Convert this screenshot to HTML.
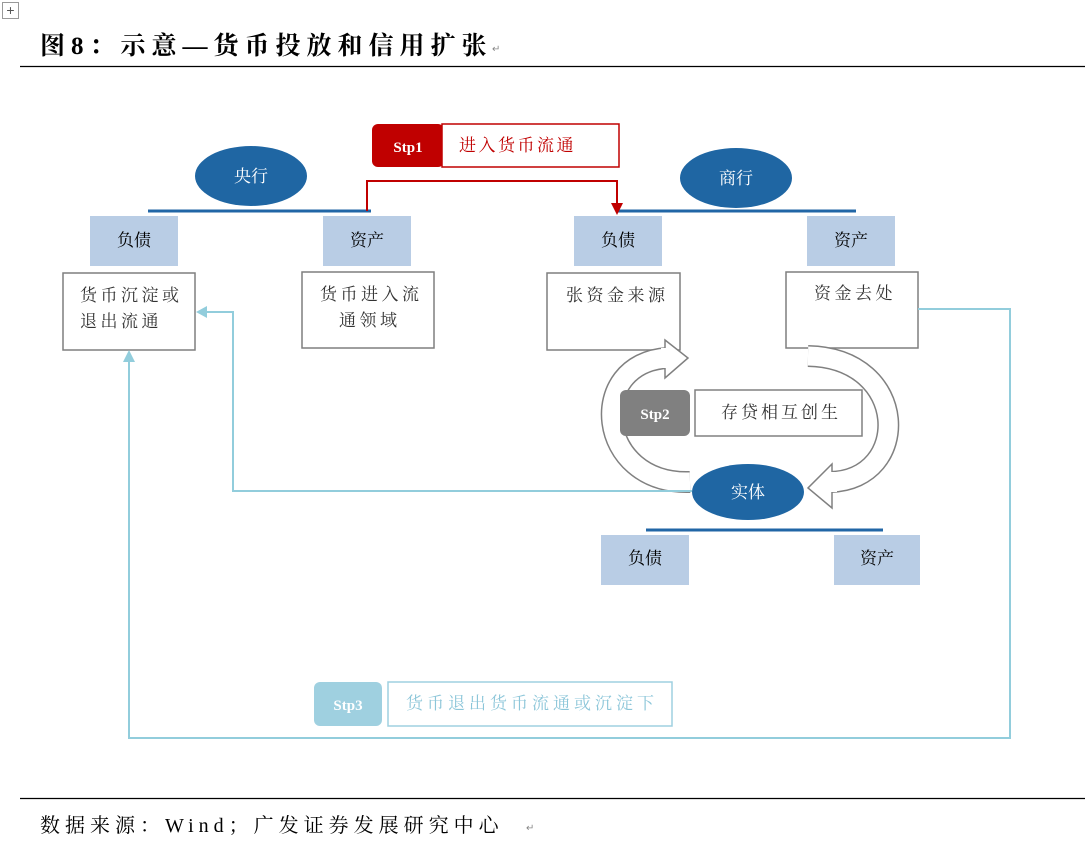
<!DOCTYPE html>
<html><head><meta charset="utf-8"><style>
html,body{margin:0;padding:0;background:#fff;}
svg{display:block;}
.cn{font-family:"Liberation Serif","Noto Serif CJK SC",serif;}
.sans{font-family:"Liberation Sans","Noto Sans CJK SC",sans-serif;}
</style></head><body>
<svg width="1085" height="843" viewBox="0 0 1085 843" xmlns="http://www.w3.org/2000/svg">
<rect x="2.5" y="2.5" width="16" height="16" fill="none" stroke="#999" stroke-width="1"/>
<text x="10.5" y="15" font-size="14" text-anchor="middle" fill="#555" class="sans">+</text>
<text x="40" y="54" font-size="25" font-weight="bold" class="cn" fill="#000" letter-spacing="6">图8：示意—货币投放和信用扩张</text>
<text x="492" y="52" font-size="10" fill="#888" class="sans">↵</text>
<line x1="20" y1="66.5" x2="1085" y2="66.5" stroke="#000" stroke-width="1.2"/>

<ellipse cx="251" cy="176" rx="56" ry="30" fill="#1f66a3"/>
<text x="251" y="182" font-size="17" fill="#fff" text-anchor="middle" class="cn">央行</text>
<line x1="148" y1="211" x2="371" y2="211" stroke="#2166a6" stroke-width="3"/>
<ellipse cx="736" cy="178" rx="56" ry="30" fill="#1f66a3"/>
<text x="736" y="184" font-size="17" fill="#fff" text-anchor="middle" class="cn">商行</text>
<line x1="616" y1="211" x2="856" y2="211" stroke="#2166a6" stroke-width="3"/>

<g font-size="17" class="cn" text-anchor="middle" fill="#000">
<rect x="90" y="216" width="88" height="50" fill="#b9cde5"/><text x="134" y="246">负债</text>
<rect x="323" y="216" width="88" height="50" fill="#b9cde5"/><text x="367" y="246">资产</text>
<rect x="574" y="216" width="88" height="50" fill="#b9cde5"/><text x="618" y="246">负债</text>
<rect x="807" y="216" width="88" height="50" fill="#b9cde5"/><text x="851" y="246">资产</text>
<rect x="601" y="535" width="88" height="50" fill="#b9cde5"/><text x="645" y="564">负债</text>
<rect x="834" y="535" width="86" height="50" fill="#b9cde5"/><text x="877" y="564">资产</text>
</g>

<g fill="#fff" stroke="#7f7f7f" stroke-width="1.5">
<rect x="63" y="273" width="132" height="77"/>
<rect x="302" y="272" width="132" height="76"/>
<rect x="547" y="273" width="133" height="77"/>
<rect x="786" y="272" width="132" height="76"/>
</g>
<g font-size="17" class="cn" fill="#333" letter-spacing="3.5">
<text x="80" y="301">货币沉淀或</text><text x="80" y="327">退出流通</text>
<text x="320" y="300">货币进入流</text><text x="339" y="326">通领域</text>
<text x="566" y="301">张资金来源</text>
<text x="814" y="299">资金去处</text>
</g>

<polyline points="367,211 367,181 617,181 617,205" fill="none" stroke="#c00000" stroke-width="2"/>
<polygon points="611,203 623,203 617,215" fill="#c00000"/>
<rect x="372" y="124" width="72" height="43" rx="6" fill="#c00000"/>
<text x="408" y="152" font-size="15" font-weight="bold" fill="#fff" text-anchor="middle" class="cn">Stp1</text>
<rect x="442" y="124" width="177" height="43" fill="#fff" stroke="#c00000" stroke-width="1.5"/>
<text x="459" y="151" font-size="17" fill="#c00000" class="cn" letter-spacing="2.5">进入货币流通</text>

<g fill="none" stroke-linejoin="round">
<path d="M690,482 C595,485 585,362 668,358" stroke="#808080" stroke-width="22"/>
<path d="M690,482 C595,485 585,362 668,358" stroke="#fff" stroke-width="19"/>
<path d="M808,356 C910,358 912,480 830,482" stroke="#808080" stroke-width="22"/>
<path d="M808,356 C910,358 912,480 830,482" stroke="#fff" stroke-width="19"/>
</g>
<polygon points="665,340 688,358 665,378" fill="#fff" stroke="#808080" stroke-width="1.5"/>
<polygon points="832,464 808,488 832,508" fill="#fff" stroke="#808080" stroke-width="1.5"/>
<rect x="661" y="348" width="8" height="20" fill="#fff"/>
<rect x="829" y="472" width="8" height="20" fill="#fff"/>
<rect x="620" y="390" width="70" height="46" rx="6" fill="#808080"/>
<text x="655" y="419" font-size="15" font-weight="bold" fill="#fff" text-anchor="middle" class="cn">Stp2</text>
<rect x="695" y="390" width="167" height="46" fill="#fff" stroke="#808080" stroke-width="1.5"/>
<text x="721" y="418" font-size="17" fill="#333" class="cn" letter-spacing="3">存贷相互创生</text>

<polyline points="692,491 233,491 233,312 204,312" fill="none" stroke="#92cddc" stroke-width="2"/>
<polygon points="196,312 207,306 207,318" fill="#92cddc"/>
<polyline points="918,309 1010,309 1010,738 129,738 129,358" fill="none" stroke="#92cddc" stroke-width="2"/>
<polygon points="129,350 123,362 135,362" fill="#92cddc"/>

<ellipse cx="748" cy="492" rx="56" ry="28" fill="#1f66a3"/>
<text x="748" y="498" font-size="17" fill="#fff" text-anchor="middle" class="cn">实体</text>
<line x1="646" y1="530" x2="883" y2="530" stroke="#2166a6" stroke-width="3"/>

<rect x="314" y="682" width="68" height="44" rx="6" fill="#9fd0e0"/>
<text x="348" y="710" font-size="15" font-weight="bold" fill="#fff" text-anchor="middle" class="cn">Stp3</text>
<rect x="388" y="682" width="284" height="44" fill="#fff" stroke="#9fd0e0" stroke-width="1.5"/>
<text x="406" y="709" font-size="17" fill="#8cc6d9" class="cn" letter-spacing="4">货币退出货币流通或沉淀下</text>

<line x1="20" y1="798.5" x2="1085" y2="798.5" stroke="#000" stroke-width="1.2"/>
<text x="40" y="832" font-size="20" class="cn" fill="#000" letter-spacing="5">数据来源：Wind；广发证券发展研究中心</text>
<text x="526" y="831" font-size="10" fill="#888" class="sans">↵</text>
</svg>
</body></html>
